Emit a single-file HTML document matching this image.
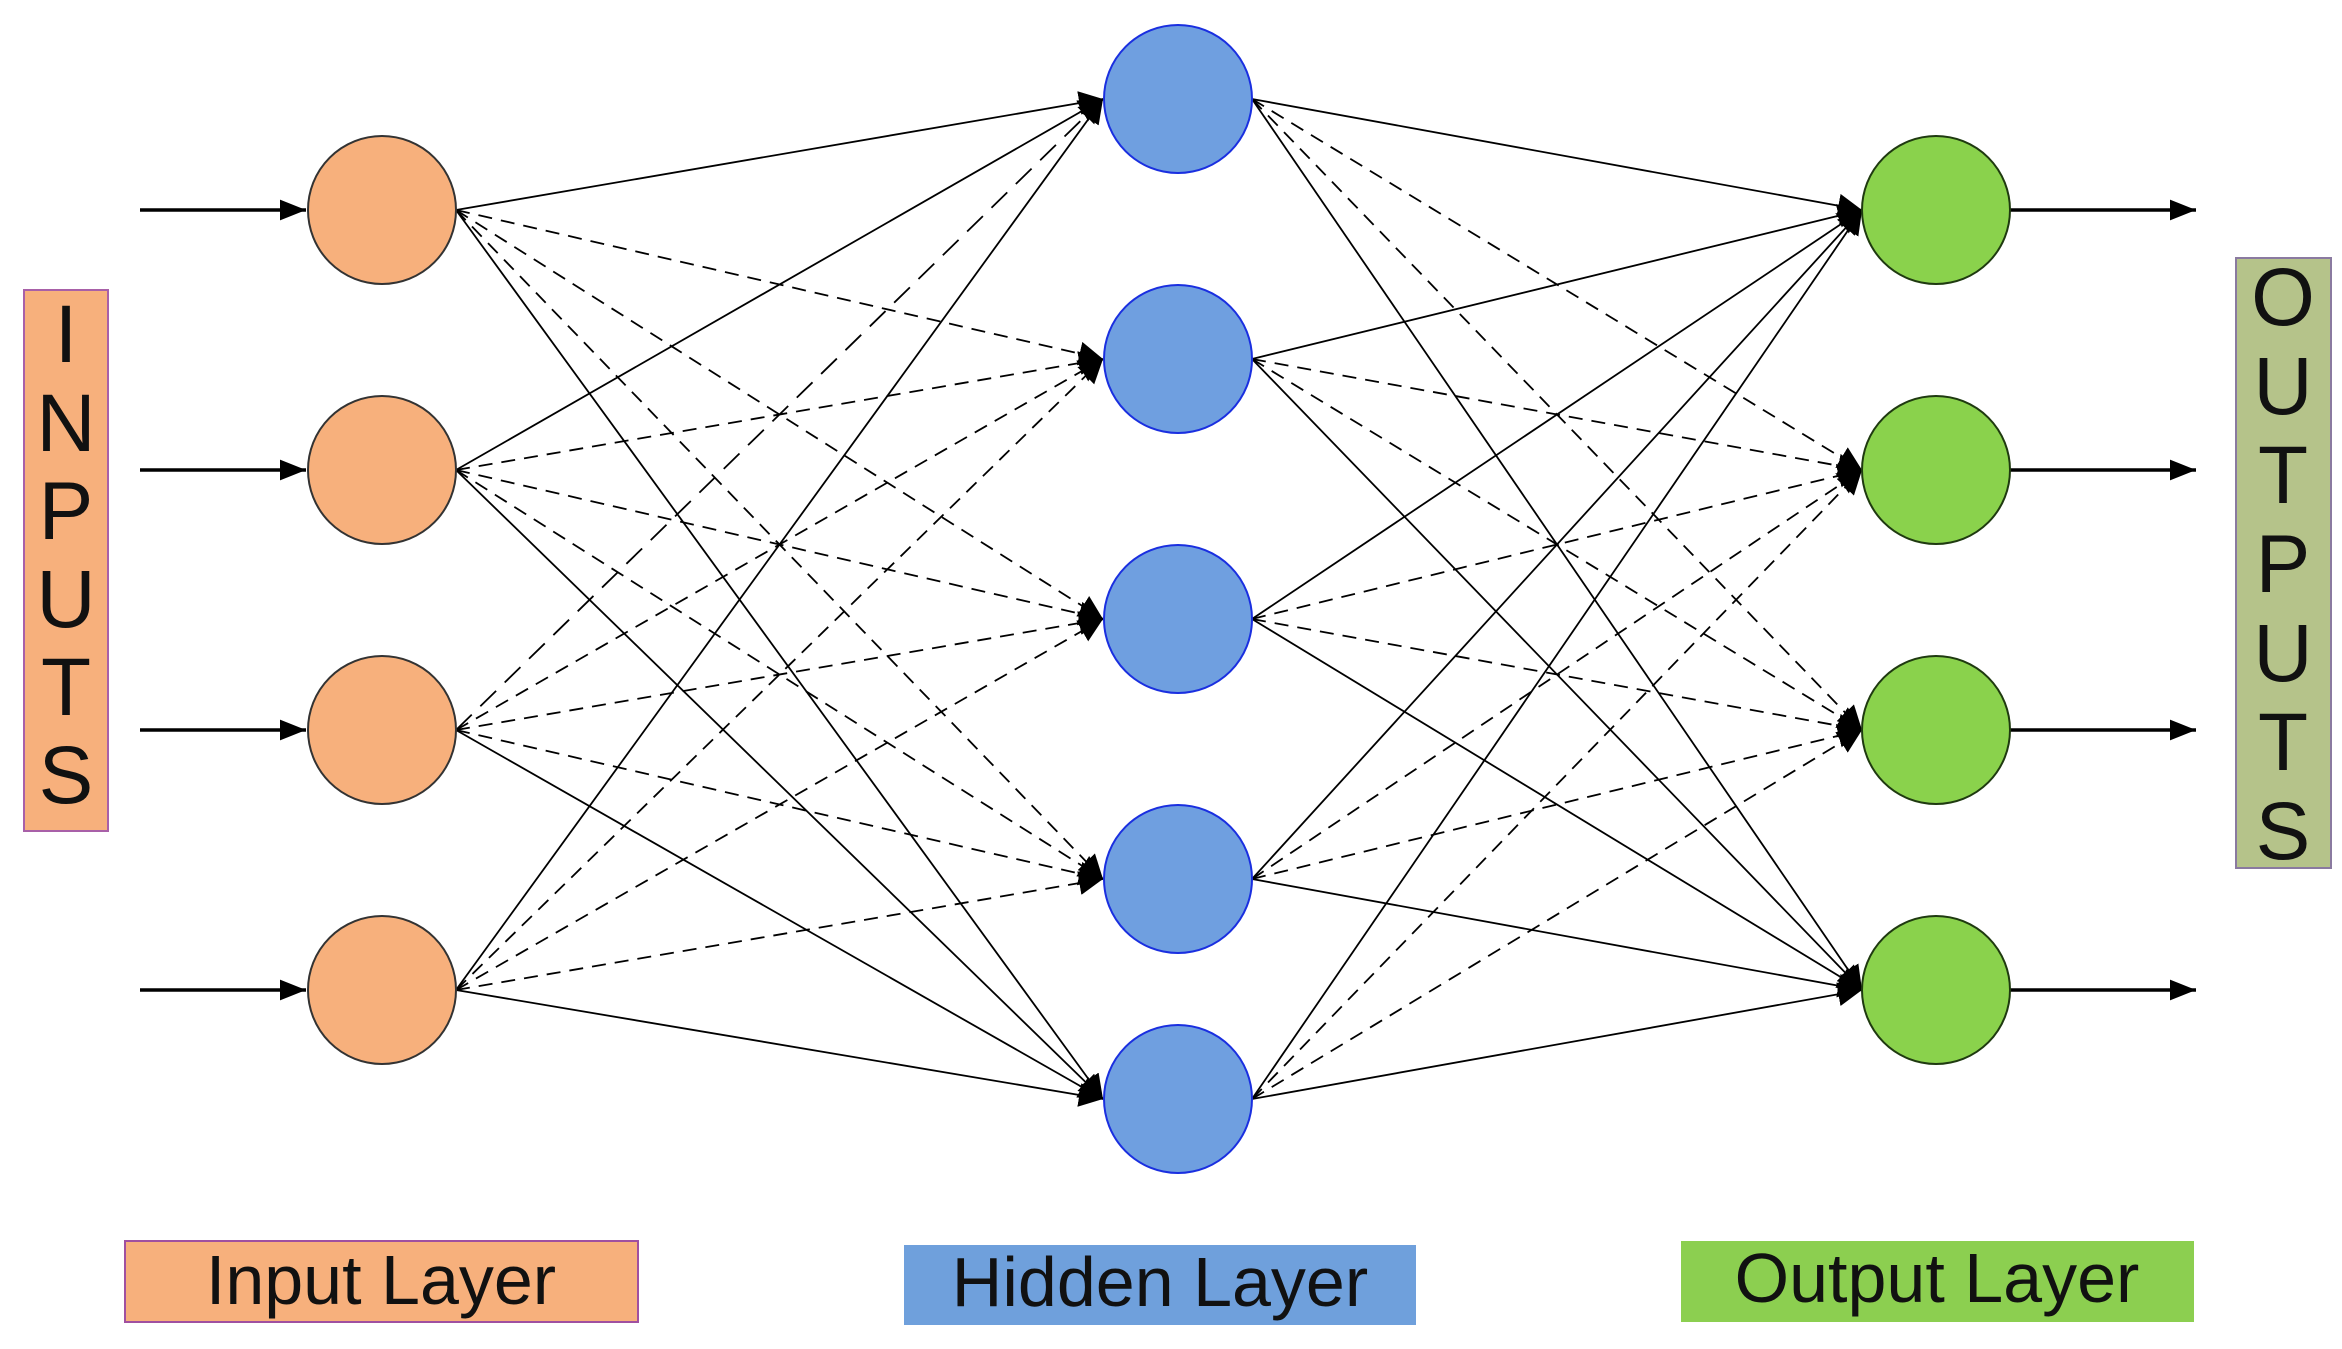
<!DOCTYPE html>
<html><head><meta charset="utf-8"><style>
html,body{margin:0;padding:0;background:#fff;}
svg{display:block;}
text{font-family:"Liberation Sans",sans-serif;fill:#111;}
</style></head><body>
<svg width="2342" height="1349" viewBox="0 0 2342 1349" xmlns="http://www.w3.org/2000/svg">
<defs>
<marker id="a" viewBox="0 0 10 10" refX="10" refY="5" markerWidth="24" markerHeight="24" markerUnits="userSpaceOnUse" orient="auto"><path d="M0,0 L10,5 L0,10 z" fill="#000"/></marker>
<marker id="b" viewBox="0 0 10 10" refX="10" refY="5" markerWidth="26" markerHeight="26" markerUnits="userSpaceOnUse" orient="auto"><path d="M0,1 L10,5 L0,9 z" fill="#000"/></marker>
</defs>
<g stroke="#000" stroke-width="3.5" marker-end="url(#b)">
<line x1="140" y1="210" x2="306" y2="210"/>
<line x1="140" y1="470" x2="306" y2="470"/>
<line x1="140" y1="730" x2="306" y2="730"/>
<line x1="140" y1="990" x2="306" y2="990"/>
<line x1="2010" y1="210" x2="2196" y2="210"/>
<line x1="2010" y1="470" x2="2196" y2="470"/>
<line x1="2010" y1="730" x2="2196" y2="730"/>
<line x1="2010" y1="990" x2="2196" y2="990"/>
</g>
<g stroke="#000" stroke-width="1.8" fill="none" marker-end="url(#a)">
<!-- input -> hidden : x1=456 x2=1103 -->
<line x1="456" y1="210" x2="1103" y2="99"/>
<line x1="456" y1="470" x2="1103" y2="99"/>
<line x1="456" y1="730" x2="1103" y2="99" stroke-dasharray="22,12"/>
<line x1="456" y1="990" x2="1103" y2="99"/>
<g stroke-dasharray="14,9">
<line x1="456" y1="210" x2="1103" y2="359"/>
<line x1="456" y1="470" x2="1103" y2="359"/>
<line x1="456" y1="730" x2="1103" y2="359"/>
<line x1="456" y1="990" x2="1103" y2="359"/>
<line x1="456" y1="210" x2="1103" y2="619"/>
<line x1="456" y1="470" x2="1103" y2="619"/>
<line x1="456" y1="730" x2="1103" y2="619"/>
<line x1="456" y1="990" x2="1103" y2="619"/>
<line x1="456" y1="210" x2="1103" y2="879"/>
<line x1="456" y1="470" x2="1103" y2="879"/>
<line x1="456" y1="730" x2="1103" y2="879"/>
<line x1="456" y1="990" x2="1103" y2="879"/>
</g>
<line x1="456" y1="210" x2="1103" y2="1099"/>
<line x1="456" y1="470" x2="1103" y2="1099"/>
<line x1="456" y1="730" x2="1103" y2="1099"/>
<line x1="456" y1="990" x2="1103" y2="1099"/>
<!-- hidden -> output : x1=1252 x2=1862 -->
<line x1="1252" y1="99" x2="1862" y2="210"/>
<line x1="1252" y1="359" x2="1862" y2="210"/>
<line x1="1252" y1="619" x2="1862" y2="210"/>
<line x1="1252" y1="879" x2="1862" y2="210"/>
<line x1="1252" y1="1099" x2="1862" y2="210"/>
<g stroke-dasharray="14,9">
<line x1="1252" y1="99" x2="1862" y2="470"/>
<line x1="1252" y1="359" x2="1862" y2="470"/>
<line x1="1252" y1="619" x2="1862" y2="470"/>
<line x1="1252" y1="879" x2="1862" y2="470"/>
<line x1="1252" y1="1099" x2="1862" y2="470"/>
<line x1="1252" y1="99" x2="1862" y2="730"/>
<line x1="1252" y1="359" x2="1862" y2="730"/>
<line x1="1252" y1="619" x2="1862" y2="730"/>
<line x1="1252" y1="879" x2="1862" y2="730"/>
<line x1="1252" y1="1099" x2="1862" y2="730"/>
</g>
<line x1="1252" y1="99" x2="1862" y2="990"/>
<line x1="1252" y1="359" x2="1862" y2="990"/>
<line x1="1252" y1="619" x2="1862" y2="990"/>
<line x1="1252" y1="879" x2="1862" y2="990"/>
<line x1="1252" y1="1099" x2="1862" y2="990"/>
</g>
<g fill="#f7b07c" stroke="#333" stroke-width="2">
<circle cx="382" cy="210" r="74"/><circle cx="382" cy="470" r="74"/>
<circle cx="382" cy="730" r="74"/><circle cx="382" cy="990" r="74"/>
</g>
<g fill="#6f9fe0" stroke="#1a2fe0" stroke-width="2">
<circle cx="1178" cy="99" r="74"/><circle cx="1178" cy="359" r="74"/>
<circle cx="1178" cy="619" r="74"/><circle cx="1178" cy="879" r="74"/>
<circle cx="1178" cy="1099" r="74"/>
</g>
<g fill="#8ad24c" stroke="#1f3a10" stroke-width="2">
<circle cx="1936" cy="210" r="74"/><circle cx="1936" cy="470" r="74"/>
<circle cx="1936" cy="730" r="74"/><circle cx="1936" cy="990" r="74"/>
</g>
<rect x="24" y="290" width="84" height="541" fill="#f7b07c" stroke="#a860a8" stroke-width="2"/>
<g font-size="82" text-anchor="middle">
<text x="66" y="362">I</text><text x="66" y="451">N</text><text x="66" y="539">P</text>
<text x="66" y="627">U</text><text x="66" y="715">T</text><text x="66" y="803">S</text>
</g>
<rect x="2236" y="258" width="95" height="610" fill="#b5c38a" stroke="#8a7aa0" stroke-width="2"/>
<g font-size="82" text-anchor="middle">
<text x="2283" y="325">O</text><text x="2283" y="414">U</text><text x="2283" y="503">T</text>
<text x="2283" y="592">P</text><text x="2283" y="681">U</text><text x="2283" y="770">T</text><text x="2283" y="859">S</text>
</g>
<rect x="125" y="1241" width="513" height="81" fill="#f7b07c" stroke="#a050a0" stroke-width="2"/>
<text x="381" y="1304" font-size="70" text-anchor="middle">Input Layer</text>
<rect x="904" y="1245" width="512" height="80" fill="#6fa0dc"/>
<text x="1160" y="1306" font-size="70" text-anchor="middle">Hidden Layer</text>
<rect x="1681" y="1241" width="513" height="81" fill="#8ccf50"/>
<text x="1937" y="1302" font-size="70" text-anchor="middle">Output Layer</text>
</svg>
</body></html>
